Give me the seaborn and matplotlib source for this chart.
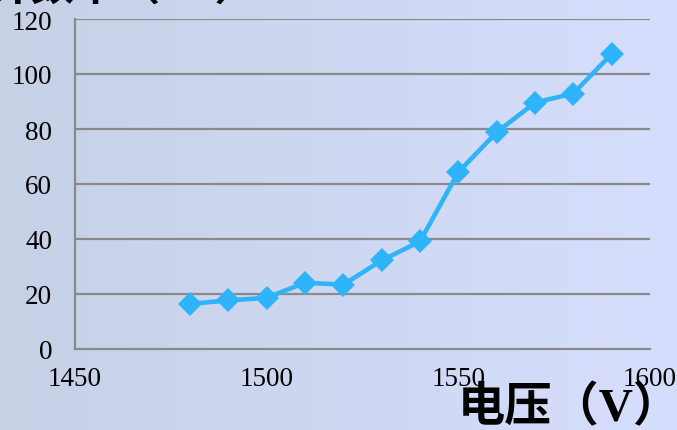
import numpy as np
import pandas as pd
import matplotlib
matplotlib.use("Agg")
import matplotlib.pyplot as plt
import seaborn as sns

# Counting rate versus applied voltage
voltage = [1480, 1490, 1500, 1510, 1520, 1530, 1540, 1550, 1560, 1570, 1580, 1590]
count_rate = [16.4, 17.7, 18.6, 24.1, 23.4, 32.2, 39.1, 64.3, 78.8, 89.6, 92.9, 107.3]
x_ticks = [1450, 1500, 1550, 1600]
y_ticks = [0, 20, 40, 60, 80, 100, 120]
x_label = "电压（V）"
y_title = "计数率（Hz）"

df = pd.DataFrame({"voltage": voltage, "rate": count_rate})

sns.set_theme(style="white")
plt.rcParams["font.family"] = ["Liberation Serif", "Noto Sans CJK SC", "DejaVu Sans"]

W, H = 677, 431
fig = plt.figure(figsize=(W / 100, H / 100), dpi=100)

# soft horizontal gradient behind everything
bg = fig.add_axes([0, 0, 1, 1], zorder=-10)
grad = np.linspace(0, 1, 256)[None, :]
left_c = np.array([0xc6, 0xd1, 0xe6]) / 255
right_c = np.array([0xd6, 0xde, 0xfd]) / 255
img = left_c[None, None, :] * (1 - grad[..., None]) + right_c[None, None, :] * grad[..., None]
bg.imshow(img, aspect="auto", extent=[0, 1, 0, 1])
bg.axis("off")

ax = fig.add_axes([75 / W, 81 / H, 575 / W, 330 / H])
ax.set_facecolor("none")

sns.lineplot(data=df, x="voltage", y="rate", ax=ax, color="#2fb4fb",
             linewidth=3.3, marker="D", markersize=12, markeredgewidth=0,
             zorder=5)

ax.set_xlim(1450, 1600)
ax.set_ylim(0, 120)
ax.set_xticks(x_ticks)
ax.set_yticks(y_ticks)
ax.set_xlabel("")
ax.set_ylabel("")

grid_c = "#8a8a8a"
for v in y_ticks[1:]:
    ax.axhline(v, color=grid_c, lw=1.6, zorder=1)

for s in ["top", "right"]:
    ax.spines[s].set_visible(False)
for s in ["left", "bottom"]:
    ax.spines[s].set_color(grid_c)
    ax.spines[s].set_linewidth(1.6)

ax.tick_params(axis="both", which="major", direction="out", length=5.5,
               width=1.4, color=grid_c, labelsize=19.5, labelcolor="black")
ax.tick_params(axis="x", pad=7)
ax.tick_params(axis="y", pad=11)
for lab in ax.get_xticklabels() + ax.get_yticklabels():
    lab.set_fontfamily("Liberation Serif")

fig.text(458 / W, 1 - 386 / H, x_label, fontsize=34, fontweight="bold",
         family=["Liberation Serif", "Noto Sans CJK SC", "DejaVu Sans"],
         ha="left", va="top", color="black")
fig.text(-12 / W, 1 - 0 / H, y_title, fontsize=31, fontweight="bold",
         family=["Noto Sans CJK SC", "DejaVu Sans"], ha="left", va="baseline",
         color="black")

fig.savefig("out.png", dpi=100)
